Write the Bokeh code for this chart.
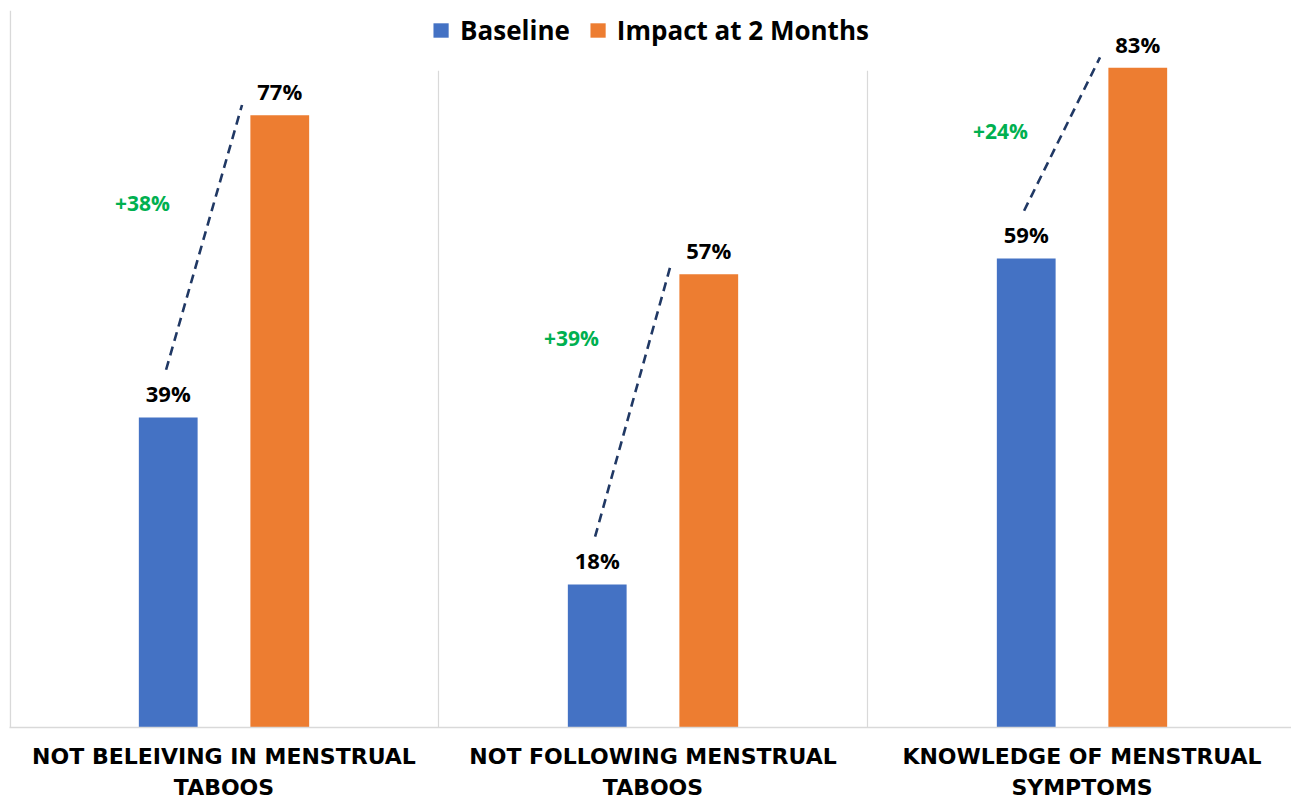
from bokeh.plotting import figure
from bokeh.models import ColumnDataSource, FixedTicker, Legend, LegendItem
from bokeh.core.properties import value
from bokeh.embed import file_html
from bokeh.resources import INLINE

categories = ["NOT BELEIVING IN MENSTRUAL\nTABOOS", "NOT FOLLOWING MENSTRUAL\nTABOOS", "KNOWLEDGE OF MENSTRUAL\nSYMPTOMS"]
baseline = [39, 18, 59]
impact = [77, 57, 83]
change_labels = ["+38%", "+39%", "+24%"]
change_label_y = [66, 49, 75]

BLUE = "#4472C4"
ORANGE = "#ED7D31"
GREEN = "#00B050"
NAVY = "#203864"
GRID = "#D9D9D9"
FONT = "Open Sans"

n = len(categories)
centers = [i + 0.5 for i in range(n)]
off = 0.13
bw = 0.137
xb = [c - off for c in centers]
xo = [c + off for c in centers]

TOP = 10
BOTTOM = 75
px_per_unit = 7.95
frame_h = 802 - TOP - BOTTOM
y_end = frame_h / px_per_unit
x_end = (1291 - 9) / 429.0

p = figure(width=1291, height=802, x_range=(0, x_end), y_range=(0, y_end),
           output_backend="svg", toolbar_location=None,
           min_border_left=9, min_border_right=0, min_border_top=TOP, min_border_bottom=BOTTOM)
p.outline_line_color = None
p.xgrid.visible = False
p.ygrid.visible = False
p.yaxis.visible = False
p.background_fill_color = "white"

# left border and separators
p.segment(x0=[0.002], y0=[0], x1=[0.002], y1=[y_end], line_color=GRID, line_width=1.5)
p.segment(x0=[1, 2], y0=[0, 0], x1=[1, 2], y1=[82.6, 82.6], line_color=GRID, line_width=1.2)

src = ColumnDataSource(dict(xb=xb, xo=xo, b=baseline, o=impact,
                            bl=[f"{v}%" for v in baseline], ol=[f"{v}%" for v in impact]))
rb = p.vbar(x="xb", top="b", width=bw, source=src, fill_color=BLUE, line_color=None)
ro = p.vbar(x="xo", top="o", width=bw, source=src, fill_color=ORANGE, line_color=None)

for col_x, col_y, col_t in (("xb", "b", "bl"), ("xo", "o", "ol")):
    p.text(x=col_x, y=col_y, text=col_t, source=src,
           text_align="center", text_baseline="bottom", y_offset=-9,
           text_font=value(FONT), text_font_style="bold", text_font_size="22px", text_color="black")

# dashed change lines
x0 = [c - off - 0.005 for c in centers]
x1 = [c + off - 0.088 for c in centers]
y0 = [v + 6.0 for v in baseline]
y1 = [v + 1.3 for v in impact]
p.segment(x0=x0, y0=y0, x1=x1, y1=y1, line_color=NAVY, line_width=2.6, line_dash="9 6")

lx = [c - off - 0.06 for c in centers]
p.text(x=lx, y=change_label_y, text=change_labels, text_align="center", text_baseline="middle",
       text_font=value(FONT), text_font_style="bold", text_font_size="21px", text_color=GREEN)

p.xaxis.ticker = FixedTicker(ticks=centers)
p.xaxis.major_label_overrides = {c: lab for c, lab in zip(centers, categories)}
p.xaxis.major_tick_line_color = None
p.xaxis.minor_tick_line_color = None
p.xaxis.axis_line_color = GRID
p.xaxis.axis_line_width = 1.5
p.xaxis.major_label_text_font = "DejaVu Sans"
p.xaxis.major_label_text_font_style = "bold"
p.xaxis.major_label_text_font_size = "22px"
p.xaxis.major_label_text_line_height = 1.25
p.xaxis.major_label_text_color = "black"
p.xaxis.major_label_standoff = 10

legend = Legend(items=[LegendItem(label="Baseline", renderers=[rb]),
                       LegendItem(label="Impact at 2 Months", renderers=[ro])],
                orientation="horizontal", location="top_center",
                glyph_width=19, glyph_height=18, label_standoff=10, spacing=18,
                label_text_font=FONT, label_text_font_style="bold", label_text_font_size="26px",
                label_text_color="black", border_line_color=None, background_fill_alpha=0,
                padding=0, margin=2)
p.add_layout(legend)

open("out.html", "w").write(file_html(p, INLINE))
